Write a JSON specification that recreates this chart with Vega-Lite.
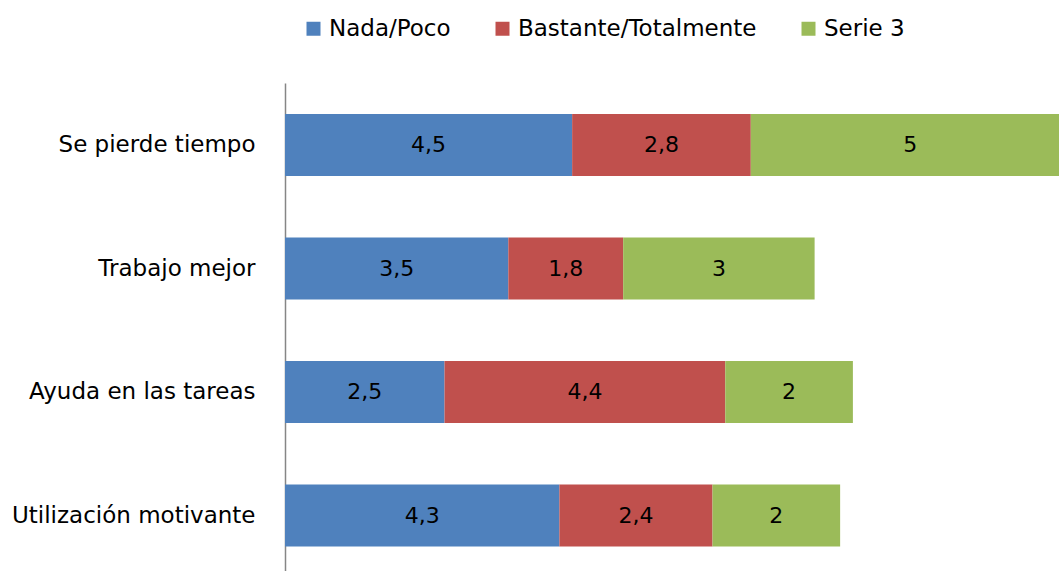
{
  "$schema": "https://vega.github.io/schema/vega-lite/v6.json",
  "width": 774,
  "height": 488,
  "autosize": {"type": "none"},
  "padding": {"left": 285, "top": 83, "right": 0, "bottom": 0},
  "background": "white",
  "config": {
    "view": {"stroke": null},
    "font": "DejaVu Sans",
    "locale": {"number": {"decimal": ",", "thousands": ".", "grouping": [3], "currency": ["", " €"]}}
  },
  "data": {
    "values": [
      {"cat": "Se pierde tiempo", "serie": "Nada/Poco", "ord": 1, "value": 4.5},
      {"cat": "Se pierde tiempo", "serie": "Bastante/Totalmente", "ord": 2, "value": 2.8},
      {"cat": "Se pierde tiempo", "serie": "Serie 3", "ord": 3, "value": 5},
      {"cat": "Trabajo mejor", "serie": "Nada/Poco", "ord": 1, "value": 3.5},
      {"cat": "Trabajo mejor", "serie": "Bastante/Totalmente", "ord": 2, "value": 1.8},
      {"cat": "Trabajo mejor", "serie": "Serie 3", "ord": 3, "value": 3},
      {"cat": "Ayuda en las tareas", "serie": "Nada/Poco", "ord": 1, "value": 2.5},
      {"cat": "Ayuda en las tareas", "serie": "Bastante/Totalmente", "ord": 2, "value": 4.4},
      {"cat": "Ayuda en las tareas", "serie": "Serie 3", "ord": 3, "value": 2},
      {"cat": "Utilización motivante", "serie": "Nada/Poco", "ord": 1, "value": 4.3},
      {"cat": "Utilización motivante", "serie": "Bastante/Totalmente", "ord": 2, "value": 2.4},
      {"cat": "Utilización motivante", "serie": "Serie 3", "ord": 3, "value": 2}
    ]
  },
  "transform": [
    {"stack": "value", "groupby": ["cat"], "sort": [{"field": "ord", "order": "ascending"}], "as": ["x0", "x1"]},
    {"calculate": "(datum.x0 + datum.x1) / 2", "as": "xmid"}
  ],
  "encoding": {
    "y": {
      "field": "cat",
      "type": "nominal",
      "sort": ["Se pierde tiempo", "Trabajo mejor", "Ayuda en las tareas", "Utilización motivante"],
      "scale": {"paddingInner": 0.498, "paddingOuter": 0.2245, "align": 0.56},
      "axis": {
        "title": null,
        "ticks": false,
        "domainColor": "#868686",
        "domainWidth": 1.5,
        "labelPadding": 30,
        "labelFontSize": 23,
        "labelColor": "#000000",
        "labelLimit": 0
      }
    }
  },
  "layer": [
    {
      "mark": {"type": "bar", "clip": true},
      "encoding": {
        "x": {"field": "x0", "type": "quantitative", "scale": {"domain": [0, 12.13], "nice": false}, "axis": null},
        "x2": {"field": "x1"},
        "color": {
          "field": "serie",
          "type": "nominal",
          "scale": {"domain": ["Nada/Poco", "Bastante/Totalmente", "Serie 3"], "range": ["#4F81BD", "#C0504D", "#9BBB59"]},
          "legend": {
            "title": null,
            "orient": "none",
            "legendX": 17,
            "legendY": -66,
            "direction": "horizontal",
            "symbolType": "square",
            "symbolSize": 196,
            "symbolStrokeWidth": 0,
            "labelFontSize": 23,
            "labelColor": "#000000",
            "labelOffset": 4,
            "labelLimit": 0,
            "columnPadding": 40
          }
        }
      }
    },
    {
      "mark": {"type": "text", "clip": true, "fontSize": 22, "color": "#000000", "align": "center", "baseline": "middle"},
      "encoding": {
        "x": {"field": "xmid", "type": "quantitative"},
        "text": {"field": "value", "type": "quantitative", "format": ".1~f"}
      }
    }
  ]
}
